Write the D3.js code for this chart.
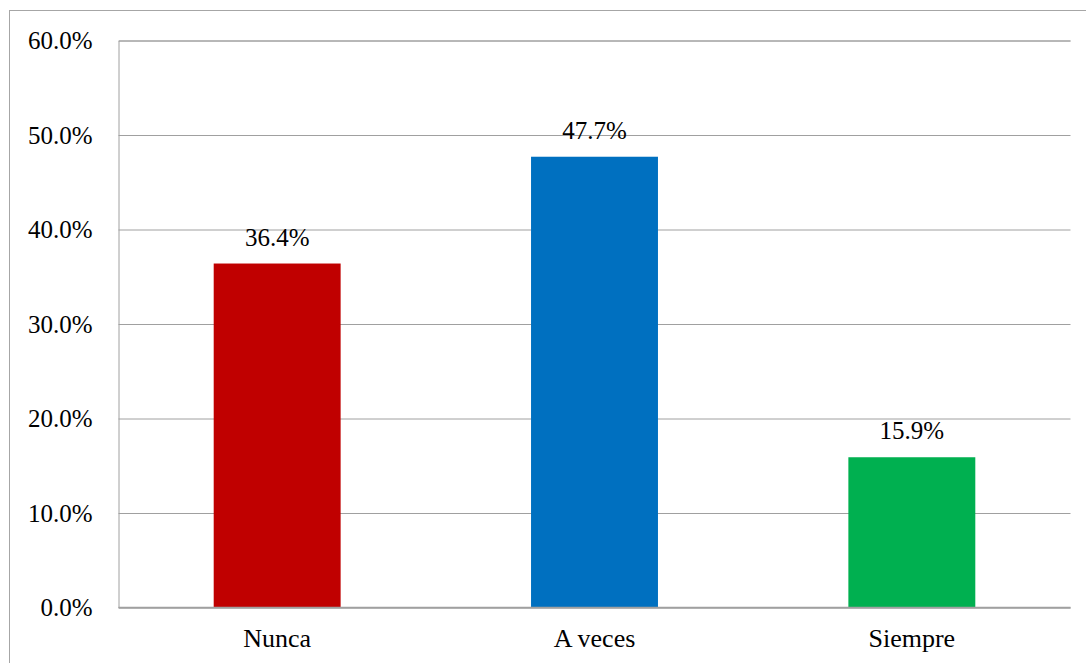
<!DOCTYPE html>
<html><head><meta charset="utf-8">
<script src="https://cdn.jsdelivr.net/npm/d3@7"></script>
<style>body{margin:0;background:#fff}svg{display:block}.ser{font-family:"Liberation Serif";fill:#000}</style>
</head><body>
<svg id="c" width="1086" height="663" font-family="Liberation Serif"></svg>
<script>
const categories = ["Nunca", "A veces", "Siempre"];
const values = [0.364, 0.477, 0.159];
const colors = ["#C00000", "#0070C0", "#00B050"];
const yTicks = [0, 0.1, 0.2, 0.3, 0.4, 0.5, 0.6];

const svg = d3.select("#c");
const m = {left: 118.5, right: 1070.5, top: 40.5, bottom: 607.5};

svg.append("rect").attr("x", 9.5).attr("y", 10.5).attr("width", 1090).attr("height", 700)
  .attr("fill", "none").attr("stroke", "#a6a6a6").attr("stroke-width", 1);

const x = d3.scaleBand().domain(categories).range([m.left, m.right]).paddingInner(0.6).paddingOuter(0.3);
const y = d3.scaleLinear().domain([0, 0.6]).range([m.bottom, m.top]);

const fmt = d3.format(".1%");

const yAxis = svg.append("g").attr("transform", `translate(${m.left},0)`)
  .call(d3.axisLeft(y).tickValues(yTicks).tickFormat(fmt).tickSize(-(m.right - m.left)).tickPadding(26));
yAxis.attr("font-family", "Liberation Serif").attr("font-size", 25);
yAxis.select(".domain").attr("stroke", "#a0a0a0");
yAxis.selectAll(".tick line").attr("stroke", "#a0a0a0").attr("stroke-width", 1);
yAxis.selectAll(".tick text").attr("dy", null).attr("y", 8)
  .attr("class", "ser").attr("font-family", "Liberation Serif").attr("font-size", 25).attr("fill", "#000");

svg.append("g").selectAll("rect").data(values).join("rect")
  .attr("x", (d, i) => x(categories[i]))
  .attr("width", x.bandwidth())
  .attr("y", d => y(d))
  .attr("height", d => y(0) - y(d))
  .attr("fill", (d, i) => colors[i]);

svg.append("line").attr("x1", m.left).attr("x2", m.right).attr("y1", y(0)).attr("y2", y(0))
  .attr("stroke", "#a0a0a0").attr("stroke-width", 1.5);

svg.append("g").selectAll("text").data(values).join("text")
  .attr("class", "ser").attr("font-family", "Liberation Serif").attr("font-size", 25)
  .attr("x", (d, i) => x(categories[i]) + x.bandwidth() / 2)
  .attr("y", d => y(d) - 18)
  .attr("text-anchor", "middle")
  .text(d => fmt(d));

svg.append("g").selectAll("text").data(categories).join("text")
  .attr("class", "ser").attr("font-family", "Liberation Serif").attr("font-size", 26)
  .attr("x", d => x(d) + x.bandwidth() / 2)
  .attr("y", 647)
  .attr("text-anchor", "middle")
  .text(d => d);
</script>
</body></html>
